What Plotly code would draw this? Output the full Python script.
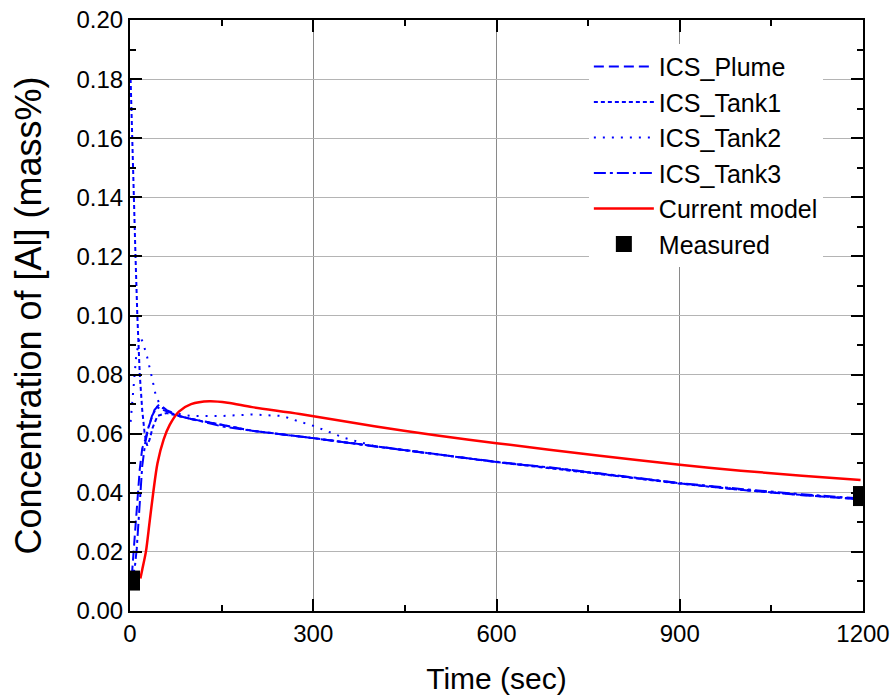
import plotly.graph_objects as go

# ---- data ----
plume_t = [3, 8, 12, 16, 20, 25, 30, 40, 48, 60, 80, 100, 150, 200, 300, 400, 500, 600, 700, 800, 900, 1000, 1100, 1196]
plume_c = [0.012, 0.025, 0.038, 0.048, 0.055, 0.058, 0.062, 0.068, 0.070, 0.068, 0.066, 0.065, 0.063, 0.061, 0.0585, 0.0558, 0.0532, 0.0504, 0.0482, 0.0456, 0.0432, 0.0410, 0.0392, 0.0378]

tank1_t = [1, 3, 6, 9, 12, 16, 20, 24, 28, 32, 37, 45, 60, 80, 100, 150, 200, 300, 400, 500, 600, 700, 800, 900, 1000, 1100, 1196]
tank1_c = [0.180, 0.163, 0.140, 0.120, 0.100, 0.080, 0.068, 0.060, 0.056, 0.058, 0.062, 0.066, 0.067, 0.066, 0.065, 0.063, 0.061, 0.0585, 0.0557, 0.0531, 0.0504, 0.0481, 0.0456, 0.0431, 0.0410, 0.0393, 0.0379]

tank2_t = [1, 5, 10, 16, 21, 28, 33, 37, 41, 50, 70, 100, 150, 200, 250, 278, 296, 314, 332, 352, 400, 500, 600, 700, 800, 900, 1000, 1100, 1196]
tank2_c = [0.064, 0.075, 0.086, 0.093, 0.091, 0.086, 0.082, 0.078, 0.074, 0.069, 0.067, 0.066, 0.066, 0.0665, 0.066, 0.064, 0.063, 0.0616, 0.0600, 0.0585, 0.0558, 0.0532, 0.0504, 0.0482, 0.0456, 0.0432, 0.0411, 0.0393, 0.0379]

tank3_t = [3, 8, 11, 15, 20, 25, 30, 36, 44, 55, 80, 100, 150, 200, 300, 400, 500, 600, 700, 800, 900, 1000, 1100, 1196]
tank3_c = [0.010, 0.015, 0.021, 0.035, 0.049, 0.057, 0.062, 0.066, 0.069, 0.068, 0.066, 0.065, 0.0625, 0.061, 0.0585, 0.0557, 0.0532, 0.0505, 0.0483, 0.0458, 0.0433, 0.0413, 0.0395, 0.0381]

model_t = [17, 20, 26, 32, 38, 45, 55, 65, 80, 100, 130, 160, 200, 278, 400, 500, 600, 769, 900, 1000, 1100, 1196]
model_c = [0.011, 0.014, 0.020, 0.030, 0.040, 0.050, 0.058, 0.063, 0.0675, 0.070, 0.071, 0.0705, 0.069, 0.0667, 0.0625, 0.0595, 0.0568, 0.0525, 0.0495, 0.0475, 0.0458, 0.0443]

meas_t = [0, 1200]
meas_c = [0.0103, 0.0389]

x_ticks = [0, 300, 600, 900, 1200]
y_ticks = [0.00, 0.02, 0.04, 0.06, 0.08, 0.10, 0.12, 0.14, 0.16, 0.18, 0.20]

BLUE = "#0000ff"
RED = "#ff0000"
ARIAL = "Liberation Sans, Arial, sans-serif"

fig = go.Figure()
fig.add_trace(go.Scatter(x=plume_t, y=plume_c, mode="lines", name="ICS_Plume", legendgroup="a",
                         line=dict(color=BLUE, width=2, dash="10px,5px")))
fig.add_trace(go.Scatter(x=tank1_t, y=tank1_c, mode="lines", name="ICS_Tank1", legendgroup="b",
                         line=dict(color=BLUE, width=2, dash="4px,3px")))
fig.add_trace(go.Scatter(x=tank2_t, y=tank2_c, mode="lines", name="ICS_Tank2", legendgroup="c",
                         line=dict(color=BLUE, width=2, dash="2px,7px")))
fig.add_trace(go.Scatter(x=tank3_t, y=tank3_c, mode="lines", name="ICS_Tank3", legendgroup="d",
                         line=dict(color=BLUE, width=2, dash="12px,4px,3px,4px")))
fig.add_trace(go.Scatter(x=model_t, y=model_c, mode="lines", name="Current model", legendgroup="e",
                         line=dict(color=RED, width=2.5, shape="spline", smoothing=0.8)))
fig.add_trace(go.Scatter(x=meas_t, y=meas_c, mode="markers", name="Measured", legendgroup="f",
                         marker=dict(symbol="square", size=20, color="black"), cliponaxis=True))

axis_common = dict(
    showline=True, linecolor="black", linewidth=2, mirror="ticks",
    ticks="inside", ticklen=12, tickwidth=2, tickcolor="black",
    showgrid=True, gridwidth=1, zeroline=False, automargin=False,
)

fig.update_xaxes(
    range=[0, 1200], tickvals=x_ticks, ticktext=[str(v) for v in x_ticks],
    gridcolor="#8a8a8a",
    tickfont=dict(family=ARIAL, size=24, color="black"),
    minor=dict(dtick=150, ticks="inside", ticklen=6, tickwidth=2, tickcolor="black", showgrid=False),
    title=dict(text="Time (sec)", font=dict(family=ARIAL, size=30, color="black"), standoff=22),
    **axis_common,
)
fig.update_yaxes(
    range=[0, 0.20], tickvals=y_ticks, ticktext=[f"{v:.2f}" for v in y_ticks],
    gridcolor="#b4b4b4",
    tickfont=dict(family=ARIAL, size=24, color="black"),
    minor=dict(dtick=0.01, ticks="inside", ticklen=6, tickwidth=2, tickcolor="black", showgrid=False),
    title=dict(text="Concentration of [Al] (mass%)", font=dict(family=ARIAL, size=36, color="black"), standoff=24),
    **axis_common,
)

fig.update_layout(
    width=894, height=699,
    margin=dict(l=130, r=31, t=20, b=88),
    paper_bgcolor="white", plot_bgcolor="white",
    showlegend=True,
    legend=dict(
        x=0.626, y=0.96, xanchor="left", yanchor="top",
        bgcolor="white", borderwidth=0,
        font=dict(family=ARIAL, size=25, color="black"),
        traceorder="grouped", tracegroupgap=0,
        itemwidth=60,
    ),
)

fig.write_html("out.html")
